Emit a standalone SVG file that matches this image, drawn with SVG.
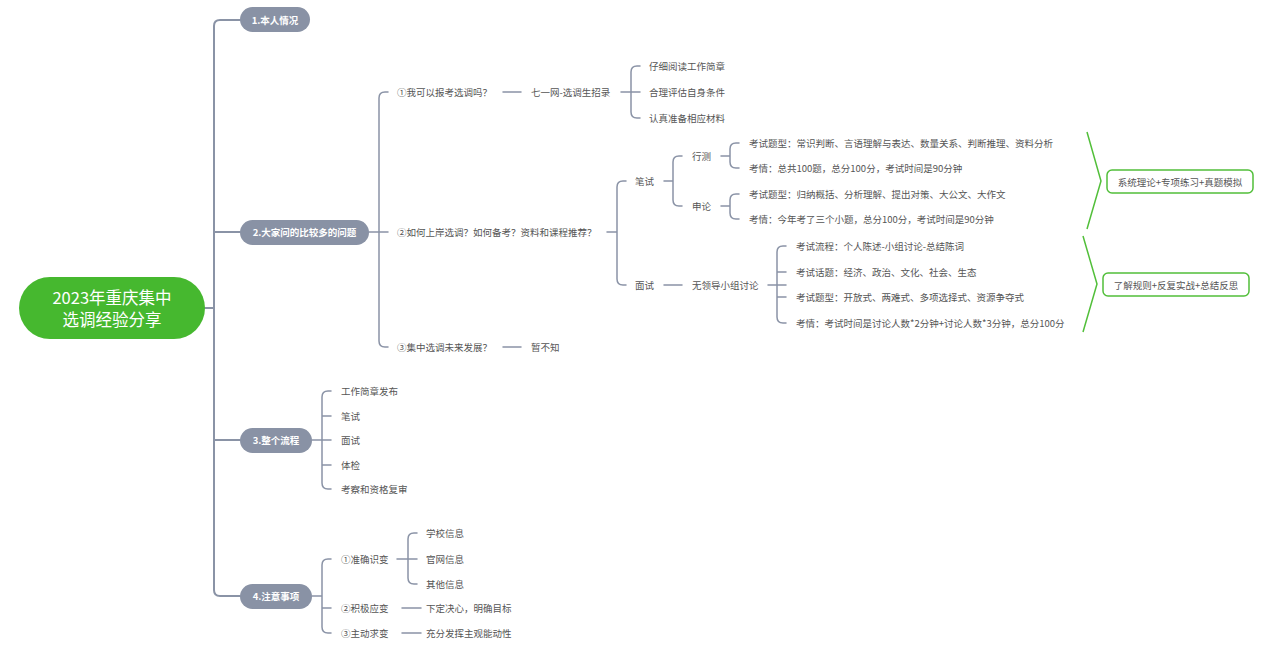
<svg xmlns="http://www.w3.org/2000/svg" width="1269" height="651" viewBox="0 0 1269 651">
<style>
.c{fill:none;stroke:#8a93a6;stroke-width:1.5;stroke-linecap:round}
.t{stroke-width:2}
.g{fill:none;stroke:#52bf3a;stroke-width:1.5}
.tx{font-family:"Noto Sans CJK SC","Noto Sans",sans-serif;font-size:9.5px;fill:#555;dominant-baseline:central}
.mn{fill:#8992a5}
.mt{font-family:"Noto Sans CJK SC","Noto Sans",sans-serif;font-size:9.5px;font-weight:bold;fill:#fff;dominant-baseline:central;text-anchor:middle}
.rt{font-family:"Noto Sans CJK SC","Noto Sans",sans-serif;font-size:16.5px;fill:#fff;dominant-baseline:central;text-anchor:middle}
.bx{fill:#fff;stroke:#52bf3a;stroke-width:1.5}
</style>
<rect width="1269" height="651" fill="#fff"/>
<g id="connectors">
<path class="c t" d="M205,308H214M240,20H220Q214,20 214,26V590Q214,596 220,596H240M214,232H240M214,440H240"/>
<!-- node2 children -->
<path class="c" d="M369,232H388M388,92H385Q379,92 379,98V341Q379,347 385,347H388"/>
<path class="c" d="M503,92H521M503,347H521"/>
<path class="c" d="M621,92H640M640,66H637Q631,66 631,72V112Q631,118 637,118H640"/>
<path class="c" d="M607,232H617M626,181H623Q617,181 617,187V279Q617,285 623,285H626"/>
<path class="c" d="M664,181H673M682,156H679Q673,156 673,162V200Q673,206 679,206H682"/>
<path class="c" d="M664,285H682"/>
<path class="c" d="M721,156H730M739,143H736Q730,143 730,149V162Q730,168 736,168H739"/>
<path class="c" d="M721,206H730M739,194H736Q730,194 730,200V213Q730,219 736,219H739"/>
<path class="c" d="M768,285H786M786,246H783Q777,246 777,252V317Q777,323 783,323H786M777,272H786M777,297H786"/>
<!-- node3 -->
<path class="c" d="M312,440H331M331,391H328Q322,391 322,397V483Q322,489 328,489H331M322,416H331M322,465H331"/>
<!-- node4 -->
<path class="c" d="M312,596H322M331,559H328Q322,559 322,565V627Q322,633 328,633H331M322,608H331"/>
<path class="c" d="M397,559H417M417,533H414Q408,533 408,539V578Q408,584 414,584H417"/>
<path class="c" d="M402,608H421M402,633H421"/>
<!-- summaries -->
<path class="g" d="M1087,132L1101,181L1087,229"/>
<path class="g" d="M1083,236L1097,284L1083,332"/>
</g>
<g id="root">
<rect x="19" y="277" width="186" height="62" rx="31" fill="#46b82f"/>
<text class="rt" x="112" y="297">2023年重庆集中</text>
<text class="rt" x="112" y="319">选调经验分享</text>
</g>
<g id="n1"><rect class="mn" x="240" y="7" width="70" height="25" rx="12.5"/><text class="mt" x="275" y="20">1.本人情况</text></g>
<g id="n2"><rect class="mn" x="240" y="220" width="129" height="25" rx="12.5"/><text class="mt" x="304.5" y="232">2.大家问的比较多的问题</text></g>
<g id="n3"><rect class="mn" x="240" y="428" width="72" height="25" rx="12.5"/><text class="mt" x="276" y="440">3.整个流程</text></g>
<g id="n4"><rect class="mn" x="240" y="584" width="72" height="25" rx="12.5"/><text class="mt" x="276" y="596">4.注意事项</text></g>
<g id="n2-1"><text class="tx" x="397" y="92">①我可以报考选调吗？</text></g>
<g id="n2-1-1"><text class="tx" x="531" y="92">七一网-选调生招录</text></g>
<g id="n2-1-1-1"><text class="tx" x="649" y="66">仔细阅读工作简章</text></g>
<g id="n2-1-1-2"><text class="tx" x="649" y="92">合理评估自身条件</text></g>
<g id="n2-1-1-3"><text class="tx" x="649" y="118">认真准备相应材料</text></g>
<g id="n2-2"><text class="tx" x="397" y="232">②如何上岸选调？如何备考？资料和课程推荐？</text></g>
<g id="n2-2-1"><text class="tx" x="635" y="181">笔试</text></g>
<g id="n2-2-1-1"><text class="tx" x="692" y="156">行测</text></g>
<g id="n2-2-1-1-1"><text class="tx" x="749" y="143">考试题型：常识判断、言语理解与表达、数量关系、判断推理、资料分析</text></g>
<g id="n2-2-1-1-2"><text class="tx" x="749" y="168">考情：总共100题，总分100分，考试时间是90分钟</text></g>
<g id="n2-2-1-2"><text class="tx" x="692" y="206">申论</text></g>
<g id="n2-2-1-2-1"><text class="tx" x="749" y="194">考试题型：归纳概括、分析理解、提出对策、大公文、大作文</text></g>
<g id="n2-2-1-2-2"><text class="tx" x="749" y="219">考情：今年考了三个小题，总分100分，考试时间是90分钟</text></g>
<g id="n2-2-2"><text class="tx" x="635" y="285">面试</text></g>
<g id="n2-2-2-1"><text class="tx" x="692" y="285">无领导小组讨论</text></g>
<g id="n2-2-2-1-1"><text class="tx" x="796" y="246">考试流程：个人陈述-小组讨论-总结陈词</text></g>
<g id="n2-2-2-1-2"><text class="tx" x="796" y="272">考试话题：经济、政治、文化、社会、生态</text></g>
<g id="n2-2-2-1-3"><text class="tx" x="796" y="297">考试题型：开放式、两难式、多项选择式、资源争夺式</text></g>
<g id="n2-2-2-1-4"><text class="tx" x="796" y="323">考情：考试时间是讨论人数*2分钟+讨论人数*3分钟，总分100分</text></g>
<g id="n2-3"><text class="tx" x="397" y="347">③集中选调未来发展？</text></g>
<g id="n2-3-1"><text class="tx" x="531" y="347">暂不知</text></g>
<g id="s1"><rect class="bx" x="1107" y="170" width="146" height="23" rx="5"/><text class="tx" x="1180" y="181.5" text-anchor="middle">系统理论+专项练习+真题模拟</text></g>
<g id="s2"><rect class="bx" x="1103" y="273" width="146" height="23" rx="5"/><text class="tx" x="1176" y="284.5" text-anchor="middle">了解规则+反复实战+总结反思</text></g>
<g id="n3-1"><text class="tx" x="341" y="391">工作简章发布</text></g>
<g id="n3-2"><text class="tx" x="341" y="416">笔试</text></g>
<g id="n3-3"><text class="tx" x="341" y="440">面试</text></g>
<g id="n3-4"><text class="tx" x="341" y="465">体检</text></g>
<g id="n3-5"><text class="tx" x="341" y="489">考察和资格复审</text></g>
<g id="n4-1"><text class="tx" x="341" y="559">①准确识变</text></g>
<g id="n4-1-1"><text class="tx" x="426" y="533">学校信息</text></g>
<g id="n4-1-2"><text class="tx" x="426" y="559">官网信息</text></g>
<g id="n4-1-3"><text class="tx" x="426" y="584">其他信息</text></g>
<g id="n4-2"><text class="tx" x="341" y="608">②积极应变</text></g>
<g id="n4-2-1"><text class="tx" x="426" y="608">下定决心，明确目标</text></g>
<g id="n4-3"><text class="tx" x="341" y="633">③主动求变</text></g>
<g id="n4-3-1"><text class="tx" x="426" y="633">充分发挥主观能动性</text></g>
</svg>
